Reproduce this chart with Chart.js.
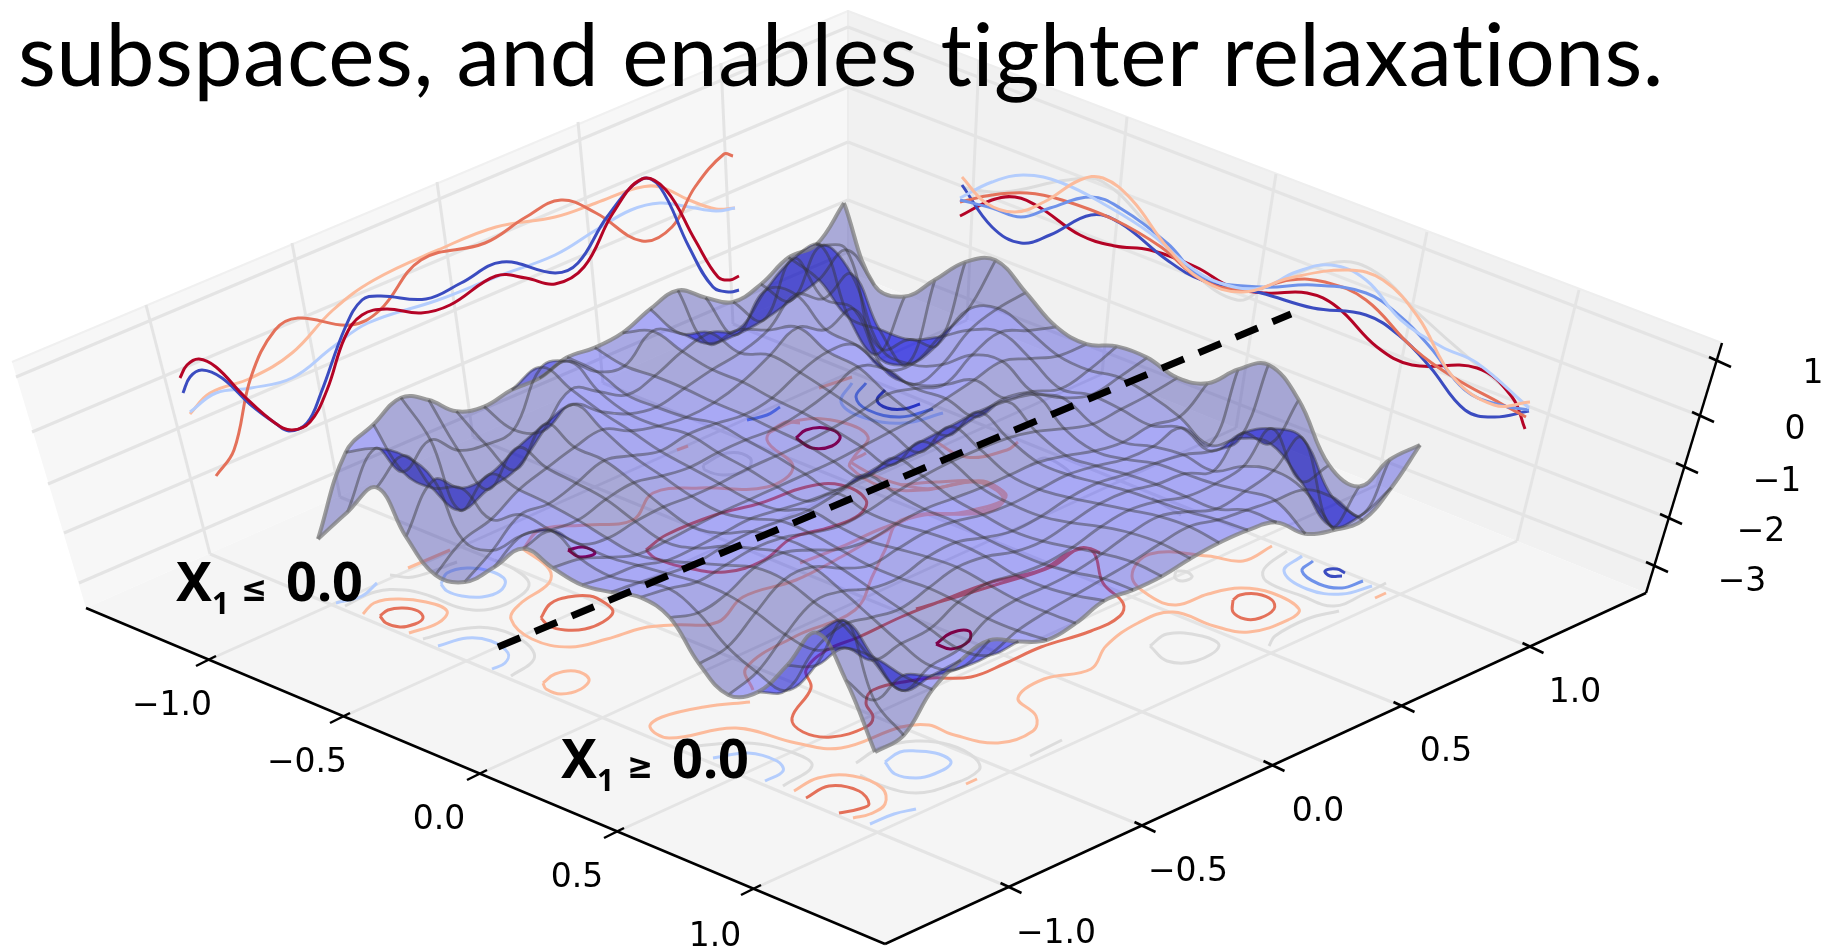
<!DOCTYPE html>
<html><head><meta charset="utf-8">
<style>html,body{margin:0;padding:0;background:#fff}canvas{display:block}</style>
<script src="https://cdn.jsdelivr.net/npm/chart.js@4"></script>
</head><body><canvas id="c" width="1831" height="952"></canvas>
<script>
const titleText = "subspaces, and enables tighter relaxations.";
const axisULabels = ["\u22121.0","\u22120.5","0.0","0.5","1.0"];
const axisVLabels = ["\u22121.0","\u22120.5","0.0","0.5","1.0"];
const axisZLabels = ["1","0","\u22121","\u22122","\u22123"];
const uTicks = [[206,661],[340,718],[477,775],[614,833],[751,890]];
const vTicks = [[1011,888],[1145,827],[1274,766],[1404,707],[1533,648]];
const zTicks = [[1720,362],[1703,417],[1687,468],[1671,519],[1657,567]];
const uLabelAt = [[172,706],[307,763],[439,820],[577,878],[715,937]];
const vLabelAt = [[1056,934],[1188,872],[1318,812],[1446,752],[1575,693]];
const zLabelAt = [[1813,374],[1795,430],[1777,482],[1761,532],[1742,582]];
const corners = {L:[86,608],B:[885,944],R:[1646,593],K:[848,272],TL:[12,362],T:[848,11],TR:[1722,343]};
const leftWallBottoms = [[210,554],[340,497],[473,437],[603,383],[733,324]];
const leftWallTops = [[146,305],[292,243],[437,182],[578,122],[721,63]];
const rightWallBottoms = [[967,320],[1102,374],[1236,428],[1377,485],[1517,541]];
const rightWallTops = [[979,60],[1127,117],[1276,174],[1427,232],[1579,290]];
const leftLevels = [[16,377],[32,432],[48,484],[64,533],[79,583]];
const backLevels = [[848,27],[848,87],[848,142],[848,200],[848,252]];
const dividerLine = [[498,647],[1291,314]];

// wall profiles (left wall)
const leftDarkRed = [[180,378],[187,365],[199,359],[216,367],[245,397],[275,423],[292,430],[310,422],[327,390],[345,337],[362,315],[386,309],[421,313],[450,305],[496,276],[526,278],[555,284],[584,267],[613,213],[642,179],[666,190],[695,240],[718,277],[730,280],[739,276]];
const leftBlue = [[183,393],[190,377],[202,370],[222,378],[251,405],[275,423],[289,431],[307,423],[321,393],[345,328],[362,300],[380,296],[426,299],[461,283],[502,262],[555,273],[578,263],[607,217],[642,179],[660,187],[689,247],[713,287],[730,292],[739,290]];
const leftLightBlue = [[190,412],[216,393],[251,388],[292,378],[333,347],[368,323],[438,300],[496,277],[555,255],[596,230],[631,210],[660,203],[689,207],[716,211],[735,208]];
const leftLightOrange = [[190,414],[210,393],[251,378],[292,353],[333,310],[374,280],[438,250],[496,227],[555,217],[596,203],[637,188],[660,187],[689,200],[716,209],[735,208]];
const leftOrange = [[216,476],[234,450],[251,377],[275,330],[298,318],[350,325],[380,310],[421,260],[485,243],[526,217],[561,200],[596,213],[642,241],[672,227],[695,187],[724,154],[733,156]];
// wall profiles (right wall)
const rightGrey = [[963,188],[1004,192],[1068,180],[1103,182],[1150,227],[1190,270],[1237,300],[1266,287],[1337,262],[1377,273],[1418,313],[1471,360],[1529,407]];
const rightDarkRed = [[960,216],[992,200],[1015,197],[1039,207],[1080,235],[1115,246],[1150,250],[1196,267],[1231,287],[1266,293],[1307,293],[1337,307],[1377,347],[1412,365],[1477,368],[1512,397],[1525,429]];
const rightBlue = [[962,185],[992,227],[1021,243],[1050,235],[1091,215],[1120,223],[1167,260],[1202,280],[1261,293],[1313,308],[1366,315],[1401,337],[1430,367],[1465,410],[1494,417],[1529,411]];
const rightMidBlue = [[960,200],[992,208],[1021,217],[1050,208],[1091,197],[1120,208],[1167,243],[1202,277],[1261,287],[1313,285],[1366,293],[1401,317],[1430,347],[1465,390],[1500,405],[1529,410]];
const rightLightBlue = [[960,198],[992,182],[1024,175],[1062,183],[1109,207],[1150,233],[1185,263],[1220,283],[1261,288],[1296,272],[1331,265],[1366,280],[1401,320],[1442,347],[1477,363],[1529,408]];
const rightOrange = [[960,202],[992,195],[1027,193],[1062,200],[1115,220],[1161,247],[1202,280],[1249,290],[1290,280],[1325,282],[1366,300],[1412,347],[1453,377],[1500,403],[1526,417]];
const rightLightOrange = [[962,177],[986,203],[1015,212],[1044,202],[1080,180],[1103,178],[1132,200],[1167,247],[1202,280],[1243,292],[1290,278],[1348,270],[1383,280],[1418,317],[1453,377],[1494,405],[1530,402]];

// floor contours
const contoursGrey = [
 [[345,606],[375,592],[405,590],[430,596],[461,608],[491,609],[520,596],[529,583],[514,569],[495,560]],
 [[423,639],[461,629],[496,629],[526,643],[534,659],[511,676]],
 [[703,465],[727,453],[750,458],[747,470],[723,475],[705,470],[703,465]],
 [[1176,571],[1187,572],[1192,577],[1183,581],[1175,578],[1176,571]],
 [[1287,551],[1264,569],[1266,581],[1302,596],[1334,606],[1366,593],[1386,583]],
 [[1339,611],[1307,619],[1275,636],[1269,646]],
 [[1150,646],[1167,634],[1202,636],[1219,646],[1196,661],[1167,661],[1150,646]],
 [[1030,756],[1062,740]],
 [[856,763],[880,748],[916,741],[950,745],[975,758],[979,770],[950,785],[916,793],[880,785],[860,775]],
 [[695,746],[748,743],[794,753],[812,766],[783,786]],
 [[390,575],[413,577],[457,562]],
 [[1152,498],[1181,515]],
 [[1030,465],[1045,458],[1065,468],[1075,478]]
];
const contoursLightBlue = [
 [[441,584],[447,573],[467,568],[490,571],[505,580],[500,591],[482,597],[462,596],[447,591],[441,584]],
 [[438,646],[467,638],[491,641],[508,653],[505,663],[492,669]],
 [[336,603],[362,596],[377,583]],
 [[885,762],[900,752],[916,751],[939,754],[951,763],[934,774],[916,778],[895,774],[885,762]],
 [[713,758],[748,753],[777,761],[783,771],[765,781]],
 [[870,824],[894,814],[916,809]],
 [[1302,556],[1284,571],[1307,589],[1342,594],[1372,586]],
 [[852,383],[841,402],[862,417],[904,423],[943,413]]
];
const contoursMidBlue = [
 [[1313,561],[1302,571],[1319,584],[1342,588],[1363,581]],
 [[866,383],[856,397],[868,410],[900,417],[933,409]],
 [[747,420],[767,415],[780,407]]
];
const contoursDarkBlue = [
 [[1345,573],[1337,569],[1325,571],[1330,576],[1342,576]],
 [[885,390],[877,400],[887,408],[904,409],[920,404]]
];
const contoursLightOrange = [
 [[409,633],[438,623],[447,611],[426,602],[397,599],[374,603],[363,614]],
 [[523,549],[540,530],[587,525],[633,520],[653,493],[700,488],[767,487],[793,467],[767,440],[783,423],[800,423]],
 [[523,549],[549,569],[549,583],[520,604],[511,619],[532,639],[570,647],[607,639],[643,628],[673,625],[718,622],[743,597],[796,580],[841,557],[883,533],[918,515],[971,513],[1003,500],[982,483],[936,482],[901,485]],
 [[543,683],[555,674],[575,671],[589,679],[581,689],[561,694],[546,689],[543,683]],
 [[750,702],[704,707],[662,717],[650,727],[669,738],[736,728],[796,743],[841,748],[901,727],[929,725],[951,734],[998,743],[1033,731],[1036,716],[1018,698],[1044,679],[1091,669],[1106,646],[1138,623],[1173,612],[1214,626],[1249,632],[1290,619],[1299,609],[1272,593],[1240,588],[1208,594],[1176,605],[1150,596],[1132,576],[1150,554],[1208,556],[1243,561],[1272,546]],
 [[753,690],[746,668],[796,636],[855,610],[873,575],[885,550],[901,520],[964,512],[1006,497],[982,482],[918,488],[852,463],[866,453]],
 [[794,791],[818,778],[853,776],[882,788],[885,804],[870,814],[853,818]],
 [[408,568],[450,550]],[[1375,598],[1386,593]],[[966,784],[977,779]],
 [[819,388],[852,377]],[[677,450],[688,446]],
 [[933,440],[966,457],[1007,450],[1018,442]],
 [[768,433],[800,420],[841,422],[868,437],[854,457],[850,467],[883,487],[924,490],[966,482],[987,482],[1005,497],[987,512],[924,515],[883,528],[841,547],[800,563]]
];
const contoursOrange = [
 [[541,618],[550,604],[568,597],[590,596],[605,603],[613,612],[603,622],[585,629],[565,630],[549,626],[541,618]],
 [[380,616],[388,610],[403,608],[418,611],[423,618],[415,624],[400,627],[386,623],[380,616]],
 [[1100,553],[1087,548],[1069,553],[1041,570],[989,583],[936,603],[901,617],[859,637],[827,650],[806,670],[811,688],[792,718],[803,732],[831,737],[866,727],[873,717],[866,703],[873,690],[915,680],[932,678],[971,677],[1006,663],[1041,647],[1091,631],[1120,616],[1123,603],[1103,583],[1094,553],[1080,548],[1053,566],[992,586],[916,609]],
 [[806,798],[829,786],[859,791],[869,804],[859,809],[839,813]],
 [[1233,600],[1240,595],[1257,594],[1272,600],[1274,609],[1260,618],[1245,619],[1233,612],[1233,600]],
 [[646,550],[666,535],[715,515],[761,503],[806,487],[841,485],[866,500],[859,515],[831,527],[792,538],[764,560],[725,572],[683,567],[655,558],[646,550]]
];
const contoursDarkRed = [
 [[936,644],[951,633],[969,631],[969,641],[951,649],[936,644]],
 [[796,438],[806,430],[825,428],[840,436],[832,446],[812,448],[796,438]],
 [[568,550],[583,547],[595,553],[580,557],[568,550]]
];

// height of the surface above the floor, row = X1 index, column = X2 index
const surfaceLift = [
[70,144,159,173,158,134,126,130,129,137,134,136,147,153,133,116,121,135,135,164],
[109,160,124,143,120,113,115,165,158,135,128,150,135,112,108,110,117,125,142,94],
[146,165,120,85,93,100,126,155,140,124,130,142,148,138,165,184,184,99,50,95],
[109,153,132,133,147,158,165,145,130,124,130,136,140,150,173,156,168,100,52,124],
[83,105,113,130,139,147,152,138,130,126,128,136,150,165,150,158,105,102,84,154],
[88,107,130,128,136,146,138,130,134,132,128,132,145,153,147,110,102,117,131,168],
[115,134,127,124,132,136,130,126,128,128,126,130,138,150,135,107,114,136,145,148],
[146,151,125,118,122,124,122,122,124,124,124,126,130,135,128,119,136,146,135,126],
[139,135,124,114,114,116,118,118,118,118,118,120,122,124,130,136,142,132,122,121],
[134,130,128,120,120,122,124,120,116,114,114,114,114,118,124,130,124,114,120,131],
[139,136,132,130,134,136,134,132,136,142,146,150,152,154,152,146,130,120,125,132],
[146,142,136,140,144,142,134,128,130,136,140,142,142,140,134,124,116,118,120,124],
[138,130,136,150,152,142,130,126,130,132,130,128,128,128,122,114,110,114,110,131],
[104,108,130,150,150,136,126,130,134,132,126,124,126,128,124,118,118,124,94,157],
[85,95,120,140,138,128,126,134,136,128,122,124,130,132,128,126,122,113,113,174],
[100,89,117,129,124,120,128,136,134,126,124,130,136,136,130,128,118,143,120,151],
[139,126,131,106,110,112,126,132,128,126,130,138,142,138,130,130,135,160,95,98],
[184,183,134,88,100,104,122,128,128,130,136,144,148,140,130,135,143,163,62,89],
[149,116,128,115,110,110,122,128,132,136,140,146,150,144,141,138,136,116,85,128],
[89,93,126,143,150,136,125,129,139,137,138,143,146,146,141,117,108,105,125,155]
];
const surfaceCorners = {left:[318,609],front:[875,841],right:[1420,600],back:[844,367]};

const C = {grey:'#dcdcdc',lb:'#b4cdfd',mb:'#6f92ea',db:'#3b4cc0',lo:'#fcbb9c',o:'#e4715a',dr:'#b40426'};
const datasets=[];
function P(a){return a.map(p=>({x:p[0],y:p[1]}));}
function add(pts,color,width,extra){
  datasets.push(Object.assign({type:'scatter',showLine:true,pointRadius:0,pointHoverRadius:0,data:P(pts),
    borderColor:color,borderWidth:width,tension:0,fill:false,clip:false,borderCapStyle:'butt',borderJoinStyle:'round',capBezierPoints:false,
    order:100000-datasets.length},extra||{}));
}
function poly(pts,color){add(pts,'rgba(0,0,0,0)',0,{polyColor:color});}
const k=corners;
poly([k.L,k.K,k.T,k.TL],'#f7f7f7');
poly([k.K,k.R,k.TR,k.T],'#f1f1f1');
poly([k.L,k.B,k.R,k.K],'#f5f5f5');
add([k.TL,k.T],'#f0f0f0',2); add([k.T,k.TR],'#eeeeee',2);add([k.T,k.K],'#ececec',2);
const gridC='#e4e4e4';
leftWallBottoms.forEach((b,i)=>add([leftWallTops[i],b],gridC,3));
rightWallBottoms.forEach((b,i)=>add([rightWallTops[i],b],gridC,3));
leftLevels.forEach((l,i)=>add([l,backLevels[i]],gridC,3));
zTicks.forEach((t,i)=>add([backLevels[i],t],gridC,3));
uTicks.forEach((t,i)=>add([t,rightWallBottoms[i]],gridC,3));
vTicks.forEach((t,i)=>add([t,leftWallBottoms[i]],gridC,3));

const curve=(a,c,w)=>add(a,c,w||3,{tension:0.4});
curve(leftLightOrange,C.lo);curve(leftLightBlue,C.lb);curve(leftOrange,C.o);curve(leftBlue,C.db);curve(leftDarkRed,C.dr);
curve(rightGrey,C.grey);curve(rightDarkRed,C.dr);curve(rightBlue,C.db);curve(rightOrange,C.o);curve(rightMidBlue,C.mb);curve(rightLightBlue,C.lb);curve(rightLightOrange,C.lo);
contoursGrey.forEach(a=>curve(a,C.grey));
contoursLightBlue.forEach(a=>curve(a,C.lb));
contoursMidBlue.forEach(a=>curve(a,C.mb));
contoursDarkBlue.forEach(a=>curve(a,C.db));
contoursLightOrange.forEach(a=>curve(a,C.lo));
contoursOrange.forEach(a=>curve(a,C.o));
contoursDarkRed.forEach(a=>curve(a,C.dr));

// surface
const N=surfaceLift.length, M=surfaceLift[0].length;
function surfacePoint(i,j){
  const s=i/(N-1),t=j/(M-1),c=surfaceCorners;
  const mix=q=>(1-s)*(1-t)*c.left[q]+s*(1-t)*c.front[q]+s*t*c.right[q]+(1-s)*t*c.back[q];
  return [mix(0),mix(1)-surfaceLift[i][j]];
}
add([], 'rgba(0,0,0,0)',0,{surfaceAnchor:true});
const rowIdx=[],colIdx=[];
const wireC='rgba(50,50,50,0.44)', edgeC='rgba(125,125,125,0.75)';
for(let i=0;i<N;i++){const a=[];for(let j=0;j<M;j++)a.push(surfacePoint(i,j));rowIdx.push(datasets.length);
  add(a,(i==0||i==N-1)?edgeC:wireC,(i==0||i==N-1)?4:2.8,{tension:0.4});}
for(let j=0;j<M;j++){const a=[];for(let i=0;i<N;i++)a.push(surfacePoint(i,j));colIdx.push(datasets.length);
  add(a,(j==0||j==M-1)?edgeC:wireC,(j==0||j==M-1)?4:2.8,{tension:0.4});}

add(dividerLine,'#000',7,{borderDash:[24,16]});
add([k.L,k.B],'#000',2.5);add([k.B,k.R],'#000',2.5);add([k.R,k.TR],'#000',2.5);
uTicks.forEach(t=>add([[t[0]-10,t[1]+5],[t[0]+10,t[1]-5]],'#000',2.5));
vTicks.forEach(t=>add([[t[0]-10.5,t[1]-5],[t[0]+10.5,t[1]+5]],'#000',2.5));
zTicks.forEach(t=>add([[t[0]-11,t[1]-5],[t[0]+11,t[1]+5]],'#000',2.5));

function traceForward(ctx,pts,a,b){
  const p=pts[a],q=pts[b];
  if(b>a)ctx.bezierCurveTo(p.cp2x,p.cp2y,q.cp1x,q.cp1y,q.x,q.y);
  else ctx.bezierCurveTo(p.cp1x,p.cp1y,q.cp2x,q.cp2y,q.x,q.y);
}
const shapePlugin={id:'shape',
 beforeDatasetDraw(chart,args){
  const ds=chart.data.datasets[args.index],ctx=chart.ctx;
  if(ds.polyColor){
    const m=chart.getDatasetMeta(args.index).data;
    ctx.save();ctx.beginPath();m.forEach((p,i)=>i?ctx.lineTo(p.x,p.y):ctx.moveTo(p.x,p.y));ctx.closePath();ctx.fillStyle=ds.polyColor;ctx.fill();ctx.restore();
  }
  if(ds.surfaceAnchor){
    const rows=rowIdx.map(ix=>{const m=chart.getDatasetMeta(ix);m.dataset.updateControlPoints(chart.chartArea,'x');return m.data;});
    const cols=colIdx.map(ix=>{const m=chart.getDatasetMeta(ix);m.dataset.updateControlPoints(chart.chartArea,'x');return m.data;});
    ctx.save();
    for(let i=0;i<N-1;i++)for(let j=0;j<M-1;j++){
      const e=surfaceLift;
      const du=(e[i+1][j]-e[i][j]+e[i+1][j+1]-e[i][j+1])/2, dv=(e[i][j+1]-e[i][j]+e[i+1][j+1]-e[i+1][j])/2;
      const sh=Math.max(0,Math.min(1,(du-dv+14)/16));
      const blue=Math.round(150+sh*95);
      ctx.beginPath();
      ctx.moveTo(rows[i][j].x,rows[i][j].y);
      traceForward(ctx,rows[i],j,j+1);
      traceForward(ctx,cols[j+1],i,i+1);
      traceForward(ctx,rows[i+1],j+1,j);
      traceForward(ctx,cols[j],i+1,i);
      ctx.closePath();
      ctx.fillStyle='rgba(0,0,'+blue+',0.31)';
      ctx.fill();
    }
    ctx.restore();
  }
 },
 afterDraw(chart){
  const ctx=chart.ctx,X=chart.scales.x,Y=chart.scales.y;
  const px=p=>[X.getPixelForValue(p[0]),Y.getPixelForValue(p[1])];
  ctx.save();
  ctx.fillStyle='#000';ctx.textBaseline='alphabetic';ctx.textAlign='left';
  ctx.font='88px Lato';ctx.letterSpacing='0.5px';
  let q=px([18,86]);ctx.fillText(titleText,q[0],q[1],1646);
  ctx.letterSpacing='0px';
  ctx.textAlign='center';ctx.textBaseline='middle';ctx.font='33px "DejaVu Sans"';
  axisULabels.forEach((t,i)=>{const a=px(uLabelAt[i]);ctx.fillText(t,a[0],a[1]);});
  axisVLabels.forEach((t,i)=>{const a=px(vLabelAt[i]);ctx.fillText(t,a[0],a[1]);});
  axisZLabels.forEach((t,i)=>{const a=px(zLabelAt[i]);ctx.fillText(t,a[0],a[1]);});
  ctx.textAlign='left';ctx.textBaseline='alphabetic';
  const label=(x0,y0,xs,xc,xr,cmp)=>{
    ctx.font='bold 54px "Noto Sans"';let a=px([x0,y0]);ctx.fillText('X',a[0],a[1],36);
    ctx.font='bold 30px "Noto Sans"';a=px([xs,y0+13]);ctx.fillText('1',a[0],a[1]);
    ctx.font='bold 36px "DejaVu Sans"';a=px([xc,y0]);ctx.fillText(cmp,a[0],a[1],26);
    ctx.font='bold 54px "Noto Sans"';a=px([xr,y0]);ctx.fillText('0.0',a[0],a[1]);
  };
  label(176,601,212,241,286,'\u2264');
  label(561,778,597,627,672,'\u2265');
  ctx.restore();
 }
};
new Chart(document.getElementById('c'),{
 data:{datasets},
 plugins:[shapePlugin],
 options:{responsive:false,animation:false,events:[],
  layout:{padding:0},
  plugins:{legend:{display:false},title:{display:false},tooltip:{enabled:false}},
  scales:{x:{type:'linear',min:0,max:1831,display:false},y:{type:'linear',min:0,max:952,reverse:true,display:false}}}
});
</script></body></html>
